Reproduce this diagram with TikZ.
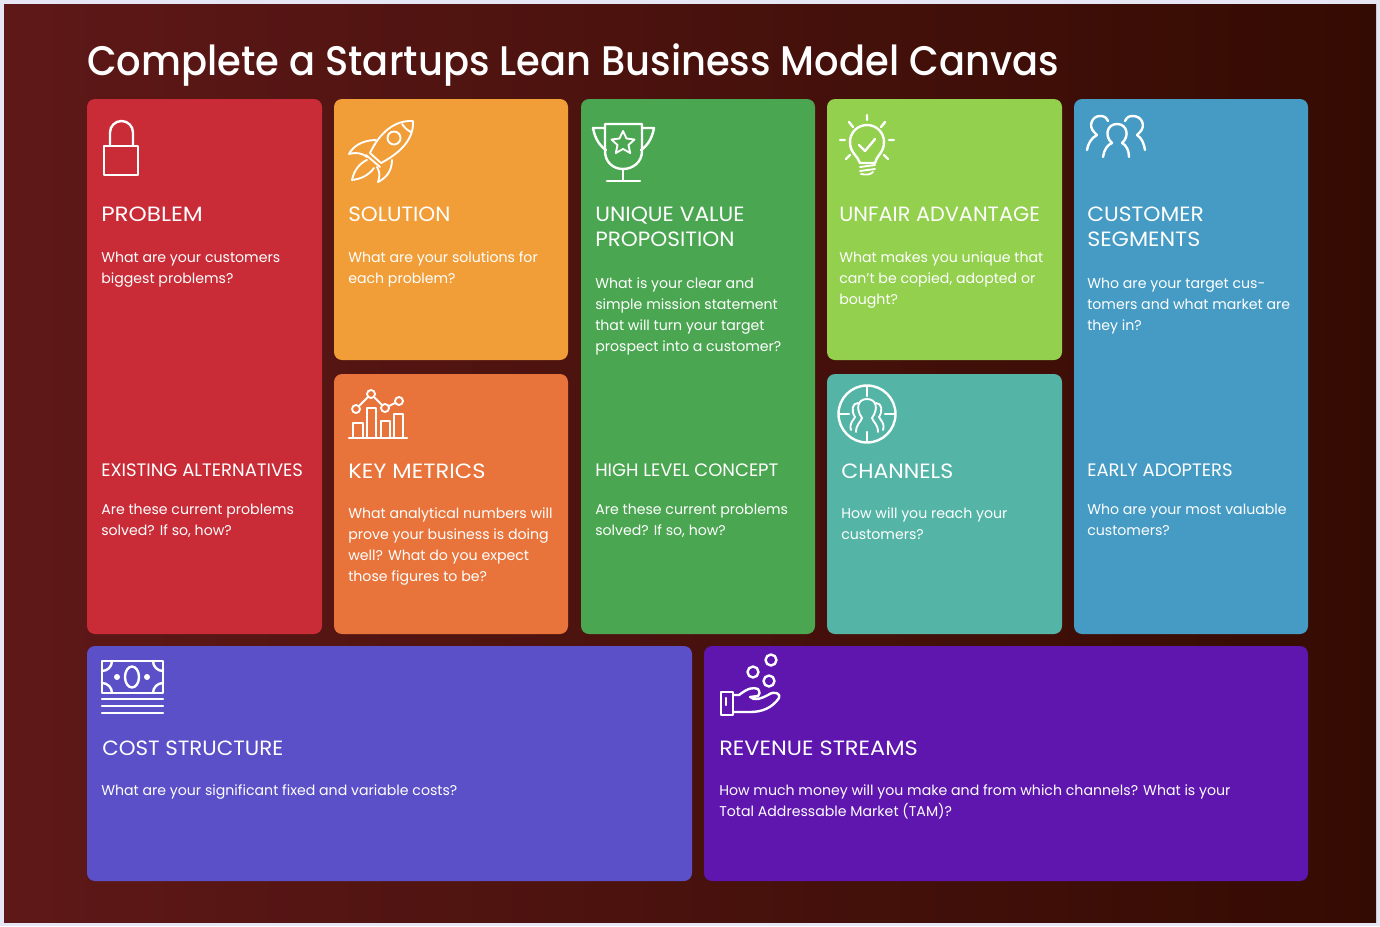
\documentclass[tikz,border=0pt]{standalone}
\usepackage{graphicx}
\usepackage{fontspec}
\setmainfont{Poppins}
\newfontfamily\titlefont{Poppins Medium}
\definecolor{pagebg}{HTML}{E6E6F5}
\definecolor{bgl}{HTML}{5E1818}
\definecolor{bgr}{HTML}{340B02}
\definecolor{cprob}{HTML}{C92B37}
\definecolor{csol}{HTML}{F19E38}
\definecolor{cmet}{HTML}{E8743B}
\definecolor{cuvp}{HTML}{4BA651}
\definecolor{cunf}{HTML}{92D04D}
\definecolor{ccha}{HTML}{54B4A6}
\definecolor{ccus}{HTML}{459BC4}
\definecolor{ccos}{HTML}{5B50C8}
\definecolor{crev}{HTML}{5E16AF}
\tikzset{
  card/.style={rounded corners=6pt},
  ttl/.style={anchor=base west,inner sep=0,text=white,font=\titlefont\fontsize{31}{36}\selectfont},
  hd/.style={anchor=base west,inner sep=0,text=white,font=\fontsize{15.5}{19}\selectfont},
  hds/.style={anchor=base west,inner sep=0,text=white,font=\fontsize{13.5}{19}\selectfont},
  bd/.style={anchor=north west,inner sep=0,align=left,text=white,font=\fontsize{10.6}{15.75}\selectfont},
  ico/.style={draw=white,line width=1.8pt,line cap=round,line join=round},
  icof/.style={draw=white,line width=1.4pt,line cap=round,line join=round}
}
\newcommand{\cardbox}[6]{\fill[card,#6] (#2,#3) rectangle (#4,#5);}
\newcommand{\sx}[2]{\scalebox{#1}[1]{#2}}
\begin{document}
\begin{tikzpicture}[x=0.75pt,y=-0.75pt]
\useasboundingbox (0,0) rectangle (1380,926);
\fill[pagebg] (0,0) rectangle (1380,926);
\shade[left color=bgl,right color=bgr] (4,4) rectangle (1376,922);
\node[ttl] (title) at (87,75) {\sx{0.93}{Complete a Startups Lean Business Model Canvas}};
\cardbox{a}{87}{99}{322}{634}{cprob}
\cardbox{b}{334}{99}{568}{360}{csol}
\cardbox{c}{334}{374}{568}{634}{cmet}
\cardbox{d}{581}{99}{815}{634}{cuvp}
\cardbox{e}{827}{99}{1062}{360}{cunf}
\cardbox{f}{827}{374}{1062}{634}{ccha}
\cardbox{g}{1074}{99}{1308}{634}{ccus}
\cardbox{h}{87}{646}{692}{881}{ccos}
\cardbox{i}{704}{646}{1308}{881}{crev}
% Problem
\node[hd] (h1) at (101,221) {\sx{1.12}{PROBLEM}};
\node[bd] (b1) at (101,252) {What are your customers\\biggest problems?};
\node[hds] (h1b) at (101,476) {EXISTING ALTERNATIVES};
\node[bd] (b1b) at (101,504) {Are these current problems\\solved? If so, how?};
% Solution
\node[hd] (h2) at (348,221) {\sx{1.04}{SOLUTION}};
\node[bd] (b2) at (348,251) {What are your solutions for\\each problem?};
% Metrics
\node[hd] (h3) at (348,478) {\sx{1.09}{KEY METRICS}};
\node[bd] (b3) at (348,507) {What analytical numbers will\\prove your business is doing\\well? What do you expect\\those figures to be?};
% UVP
\node[hd] (h4) at (595,221) {\sx{1.057}{UNIQUE VALUE}};
\node[hd] (h4x) at (595,246) {\sx{1.045}{PROPOSITION}};
\node[bd] (b4) at (595,277) {What is your clear and\\simple mission statement\\that will turn your target\\prospect into a customer?};
\node[hds] (h4b) at (595,476) {HIGH LEVEL CONCEPT};
\node[bd] (b4b) at (595,504) {Are these current problems\\solved? If so, how?};
% Unfair
\node[hd] (h5) at (839,221) {\sx{1.01}{UNFAIR ADVANTAGE}};
\node[bd] (b5) at (839,251) {What makes you unique that\\can't be copied, adopted or\\bought?};
% Channels
\node[hd] (h6) at (841,478) {\sx{1.067}{CHANNELS}};
\node[bd] (b6) at (841,507) {How will you reach your\\customers?};
% Customer
\node[hd] (h7) at (1087,221) {\sx{1.055}{CUSTOMER}};
\node[hd] (h7x) at (1087,246) {\sx{1.076}{SEGMENTS}};
\node[bd] (b7) at (1087,278) {Who are your target cus-\\tomers and what market are\\they in?};
\node[hds] (h7b) at (1087,476) {EARLY ADOPTERS};
\node[bd] (b7b) at (1087,504) {Who are your most valuable\\customers?};
% Cost
\node[hd] (h8) at (102,755) {\sx{1.034}{COST STRUCTURE}};
\node[bd] (b8) at (101,784) {What are your significant fixed and variable costs?};
% Revenue
\node[hd] (h9) at (719,755) {\sx{1.087}{REVENUE STREAMS}};
\node[bd] (b9) at (719,784) {How much money will you make and from which channels? What is your\\Total Addressable Market (TAM)?};
% Lock
\draw[ico] (104,146) rectangle (138,175);
\draw[ico] (110,146) -- (110,132.5) arc[start angle=180,end angle=360,radius=11.5] -- (133,146);
% Rocket
\draw[icof] (413,121) .. controls (395,120) and (380,132) .. (370,153) -- (381,163) .. controls (402,152) and (414,138) .. (413,121) -- cycle;
\draw[icof] (402,124) .. controls (405,128) and (407,130) .. (411,132);
\draw[icof] (394,138) circle[radius=6.5];
\draw[icof] (376,140) .. controls (363,140) and (353,146) .. (349,154) .. controls (356,152) and (362,153) .. (367,157);
\draw[icof] (392,160) .. controls (392,171) and (386,178) .. (378,182) .. controls (380,176) and (380,172) .. (377,167);
\draw[icof] (366,155) -- (380,167);
\draw[icof] (367,160) .. controls (360,163) and (354,170) .. (352,180) .. controls (361,179) and (369,175) .. (374,168);
% Trophy
\draw[ico] (605,124) -- (642,124) -- (642,151) .. controls (642,162) and (633,169) .. (623,169) .. controls (613,169) and (605,162) .. (605,151) -- cycle;
\draw[ico] (605,128) -- (593,128) .. controls (595,139) and (600,146) .. (606,150);
\draw[ico] (642,128) -- (654,128) .. controls (652,139) and (647,146) .. (641,150);
\draw[ico] (623,169) -- (623,181) (607,181) -- (640,181);
\draw[icof] (623,131) -- (626.5,138.5) -- (634.5,139.5) -- (628.5,145) -- (630.2,153) -- (623,149) -- (615.8,153) -- (617.5,145) -- (611.5,139.5) -- (619.5,138.5) -- cycle;
% Bulb
\draw[ico] (860,163) .. controls (858,156) and (850,153) .. (850,142) .. controls (850,132) and (858,125) .. (867,125) .. controls (876,125) and (884,132) .. (884,142) .. controls (884,153) and (876,156) .. (875,163) -- cycle;
\draw[ico] (859,145) -- (865,151) -- (875,139);
\draw[ico] (867,115) -- (867,120) (849,122) -- (853,127) (885,122) -- (881,127) (840,140) -- (845,140) (889,140) -- (894,140) (846,159) -- (850,155) (888,159) -- (884,155);
\draw[icof] (860,167) -- (875,165) (860,171) -- (875,169) (861,174) .. controls (866,175) and (870,175) .. (873,172);
% People
\draw[ico] (1108,121) .. controls (1106,117) and (1104,116) .. (1100,116) .. controls (1092,116) and (1088,126) .. (1094,132) -- (1097,135) .. controls (1091,138) and (1088,144) .. (1087,150);
\draw[ico] (1125,121) .. controls (1127,117) and (1129,116) .. (1133,116) .. controls (1142,116) and (1146,126) .. (1140,132) -- (1137,135) .. controls (1142,138) and (1144,144) .. (1145,150);
\draw[ico] (1103,157) .. controls (1104,150) and (1107,145) .. (1112,143) .. controls (1104,136) and (1107,124) .. (1117,124) .. controls (1127,124) and (1130,136) .. (1122,143) .. controls (1126,145) and (1129,150) .. (1129,157);
% Metrics icon
\draw[ico] (349,438) -- (407,438);
\draw[icof] (353,438) -- (353,423) -- (363,423) -- (363,438);
\draw[icof] (367,438) -- (367,408) -- (376,408) -- (376,438);
\draw[icof] (381,438) -- (381,421) -- (390,421) -- (390,438);
\draw[icof] (394,438) -- (394,414) -- (403,414) -- (403,438);
\draw[icof] (356,409) circle[radius=4] (371,394) circle[radius=4] (385,408) circle[radius=4] (399,401) circle[radius=4];
\draw[icof] (359,406) -- (368,397) (374,397) -- (382,405) (389,406) -- (395,403);
% Channels icon
\draw[ico] (867,414) circle[radius=28.5];
\draw[ico] (867,386) -- (867,396) (867,432) -- (867,442) (839,414) -- (849,414) (885,414) -- (895,414);
\draw[icof] (856,432) .. controls (856,424) and (861,422) .. (862,418) .. controls (855,408) and (858,399) .. (867,399) .. controls (876,399) and (879,408) .. (872,418) .. controls (873,422) and (878,424) .. (878,432);
\draw[icof] (858,403) .. controls (852,403) and (851,411) .. (855,417) .. controls (853,421) and (849,423) .. (851,430);
\draw[icof] (876,403) .. controls (882,403) and (883,411) .. (879,417) .. controls (881,421) and (885,423) .. (883,430);
% Cost icon
\draw[ico] (102,661) rectangle (163,693);
\draw[ico] (132,677) ellipse[x radius=7,y radius=10.5];
\fill[white] (117,677) circle[radius=3] (147,677) circle[radius=3];
\draw[ico] (102,671) arc[start angle=90,end angle=0,radius=10] (153,661) arc[start angle=180,end angle=90,radius=10] (102,683) arc[start angle=270,end angle=360,radius=10] (153,693) arc[start angle=180,end angle=270,radius=10];
\draw[ico] (102,699) -- (163,699) (102,706) -- (163,706) (102,713) -- (163,713);
% Revenue icon
\draw[ico] (771,660) circle[radius=5.5] (753,672) circle[radius=5.5] (769,681) circle[radius=5.5];
\draw[ico] (721,692) rectangle (733,715);
\draw[ico] (726,698) -- (726,705);
\draw[ico] (733,695) -- (739,695) .. controls (748,688) and (753,687) .. (758,689) .. controls (760,692) and (760,695) .. (758,696) -- (750,697) .. controls (755,701) and (760,699) .. (768,695) .. controls (775,690) and (781,694) .. (779,698) .. controls (772,708) and (762,712) .. (750,712) -- (733,712);
\end{tikzpicture}
\end{document}
